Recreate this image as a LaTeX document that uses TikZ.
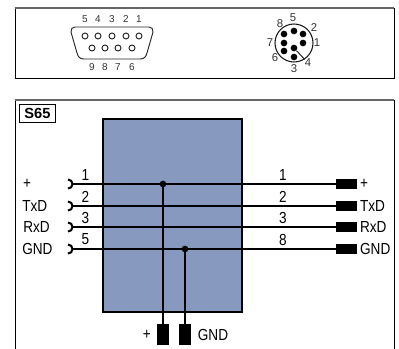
\documentclass[tikz,border=0pt]{standalone}
\usepackage{fontspec}
\setmainfont{Liberation Sans}
\newfontfamily\wirefont[FakeStretch=0.85]{Liberation Sans}
\usetikzlibrary{positioning}
\definecolor{BoxBlue}{HTML}{8899BF}
\definecolor{FrameGray}{HTML}{666666}
\tikzset{
  wirelabel/.style={font=\wirefont\fontsize{12}{14}\selectfont,inner sep=0pt},
  pinlabel/.style={font=\fontsize{7.5}{9}\selectfont,text=black!80,inner sep=0pt},
  openpin/.style={shape=circle,draw=black!85,line width=0.7pt,minimum size=4.5pt,inner sep=0pt},
  solidpin/.style={shape=circle,fill=black,minimum size=5pt,inner sep=0pt},
  junction/.style={shape=circle,fill=black,minimum size=5pt,inner sep=0pt},
  plugh/.style={shape=rectangle,fill=black,minimum width=16pt,minimum height=8pt,inner sep=0pt},
  plugv/.style={shape=rectangle,fill=black,minimum width=8.5pt,minimum height=16pt,inner sep=0pt}
}

\begin{document}
\begin{tikzpicture}[x=0.75pt,y=-0.75pt]
  \useasboundingbox (0,0) rectangle (399,349);

  % connector panel
  \draw [line width=0.7pt] (15,8) rectangle (394,78);
  \draw [FrameGray,line width=1.3pt] (14.6,8) -- (394.4,8);

  % d-sub shell
  \draw [black!85,line width=0.7pt] (75,27) -- (149,27)
    .. controls (152,27) and (153,29) .. (153,32)
    -- (147,53) .. controls (146,57) and (144,59) .. (140,59)
    -- (84,59) .. controls (80,59) and (78,57) .. (77,53)
    -- (71,32) .. controls (71,29) and (72,27) .. (75,27) -- cycle;
  \foreach \n/\x in {5/85,4/98,3/112,2/126,1/139}
  {
    \node[openpin] (sub\n) at (\x,36){};
    \node[pinlabel] (subl\n) at (\x,19){\n};
  }
  \foreach \n/\x in {9/92,8/105,7/118,6/132}
  {
    \node[openpin] (sub\n) at (\x,48){};
    \node[pinlabel] (subl\n) at (\x,67){\n};
  }

  % round connector
  \node[shape=circle,draw=black!90,line width=0.8pt,minimum size=28.5pt,inner sep=0pt] (round) at (294,43){};
  \foreach \n/\x/\y in {5/294/31,2/303/34,1/303/43,8/284/34,7/284/43,6/284/51,4/294/48,3/294/57}
  {
    \node[solidpin] (pin\n) at (\x,\y){};
  }
  \foreach \n/\x/\y in {5/293/18,2/314/28,1/317/43,4/308/63,3/294/69,6/275/58,7/270/43,8/280/24}
  {
    \node[pinlabel,font=\fontsize{8.5}{10}\selectfont] (pinl\n) at (\x,\y){\n};
  }
  \draw [black!90,line width=0.7pt] (pin4) -- (pinl4);

  % wiring panel
  \draw [line width=0.7pt] (15,349) -- (15,100) -- (394,100) -- (394,349);
  \draw [FrameGray,line width=1.3pt] (14.6,100) -- (394.4,100);
  \node[shape=rectangle,draw,line width=0.7pt,minimum width=27pt,minimum height=13.5pt,inner sep=0pt,font=\bfseries\fontsize{11}{13}\selectfont] (title) at (37.5,113){S65};
  \node[shape=rectangle,draw,fill=BoxBlue,line width=1.2pt,minimum width=104pt,minimum height=144.5pt,inner sep=0pt] (device) at (172.5,215.5){};

  % horizontal wires
  \foreach \s/\e/\y/\a/\b/\t in {p/p/184/1/1/+,t/t/206/2/2/TxD,r/r/227/3/3/RxD,g/g/249/5/8/GND}
  {
    \coordinate (sock\s) at (72,\y);
    \node[plugh] (plug\e) at (346.5,\y){};
    \draw [line width=1.4pt] (sock\s) -- (plug\e);
    \draw [line width=1.5pt] (68,\y-4.5) arc[start angle=90,end angle=-90,radius=3.4pt];
    \node[wirelabel] (numl\s) at (85.5,\y-9.5){\a};
    \node[wirelabel] (numr\e) at (283,\y-9.5){\b};
    \node[wirelabel,right=1.8pt of plug\e] (namer\e){\t};
  }
  \node[wirelabel] (namelp) at (27,184){+};
  \node[wirelabel,anchor=west] (namelt) at (22,206){TxD};
  \node[wirelabel,anchor=west] (namelr) at (23,227){RxD};
  \node[wirelabel,anchor=west] (namelg) at (22,249){GND};

  % supply wires
  \node[plugv] (plugplus) at (163,334.5){};
  \node[plugv] (pluggnd) at (185,334.5){};
  \coordinate (tapp) at (163,184);
  \coordinate (tapg) at (185,249);
  \draw [line width=2.2pt] (tapp) -- (plugplus);
  \draw [line width=2.2pt] (tapg) -- (pluggnd);
  \node[junction] (dotp) at (tapp){};
  \node[junction] (dotg) at (tapg){};
  \node[wirelabel,left=4.5pt of plugplus] (nameplus){+};
  \node[wirelabel,right=5pt of pluggnd] (namegnd){GND};

\end{tikzpicture}
\end{document}
